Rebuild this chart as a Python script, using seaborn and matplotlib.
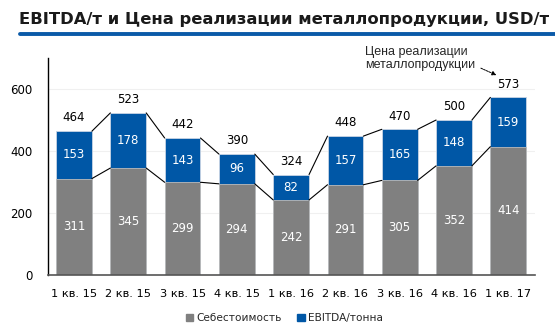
import matplotlib
matplotlib.use("Agg")
import matplotlib.pyplot as plt
import seaborn as sns
import pandas as pd
from matplotlib.lines import Line2D
from matplotlib.patches import Patch

quarters = ["1 кв. 15", "2 кв. 15", "3 кв. 15", "4 кв. 15", "1 кв. 16",
            "2 кв. 16", "3 кв. 16", "4 кв. 16", "1 кв. 17"]
cost = [311, 345, 299, 294, 242, 291, 305, 352, 414]
ebitda = [153, 178, 143, 96, 82, 157, 165, 148, 159]
price = [464, 523, 442, 390, 324, 448, 470, 500, 573]

GRAY = "#808080"
BLUE = "#0057A6"

sns.set_theme(style="white")
plt.rcParams['font.family'] = ['DejaVu Sans']

df = pd.DataFrame({"q": quarters, "cost": cost, "ebitda": ebitda, "price": price})

fig = plt.figure(figsize=(5.55, 3.3), dpi=100)
ax = fig.add_axes([0.0865, 0.167, 0.878, 0.657])

sns.barplot(data=df, x="q", y="price", color=BLUE, width=0.66, ax=ax,
            saturation=1, edgecolor="#c8d4e4", linewidth=0.6)
sns.barplot(data=df, x="q", y="cost", color=GRAY, width=0.66, ax=ax,
            saturation=1, edgecolor="#bcbcbc", linewidth=0.6)

n = len(quarters)
tot_bars = ax.patches[:n]
cost_bars = ax.patches[n:2 * n]

for i in range(n - 1):
    for bars in (tot_bars, cost_bars):
        a, b = bars[i], bars[i + 1]
        ax.add_line(Line2D([a.get_x() + a.get_width(), b.get_x()],
                           [a.get_height(), b.get_height()],
                           color="black", lw=0.8, zorder=1))

for i in range(n):
    tb, cb = tot_bars[i], cost_bars[i]
    xc = tb.get_x() + tb.get_width() / 2
    ax.text(xc, price[i] + 22, str(price[i]), ha="center", va="bottom",
            fontsize=8.5, color="black")
    ax.text(xc, cost[i] + ebitda[i] / 2, str(ebitda[i]), ha="center", va="center",
            fontsize=8.5, color="white")
    ax.text(xc, cost[i] * 0.5, str(cost[i]), ha="center", va="center",
            fontsize=8.5, color="white")

ax.set_ylim(0, 700)
ax.set_xlim(-0.479, n - 1 + 0.498)
ax.set_yticks([0, 200, 400, 600])
ax.yaxis.grid(True, color="#f0f0f0", lw=0.8)
ax.set_axisbelow(True)
ax.set_xlabel("")
ax.set_ylabel("")
ax.tick_params(axis="x", labelsize=8.2, colors="black", length=0, pad=10)
ax.tick_params(axis="y", labelsize=8.5, colors="black", length=0, pad=11)
for s in ("top", "right"):
    ax.spines[s].set_visible(False)
ax.spines["left"].set_color("black")
ax.spines["left"].set_linewidth(1.0)
ax.spines["bottom"].set_color("#555555")
ax.spines["bottom"].set_linewidth(1.2)

# annotation
ax.annotate("Цена реализации\nметаллопродукции",
            xy=(7.78, 645), xytext=(5.36, 700), ha="left", va="center",
            fontsize=9, family=["Liberation Sans", "DejaVu Sans"],
            linespacing=1.1, annotation_clip=False,
            arrowprops=dict(arrowstyle="-|>", linestyle=(0, (2, 1)), lw=0.7,
                            color="black", shrinkA=2, shrinkB=0,
                            relpos=(1.0, 0.2), mutation_scale=6))

# title
fig.text(0.034, 0.94, "EBITDA/т и Цена реализации металлопродукции, USD/т",
         fontsize=11.8, fontweight="bold", color="#1a1a1a", ha="left", va="center")
fig.add_artist(Line2D([0.036, 1.0], [0.898, 0.898], color="#0a5aa8", lw=2.8,
                      transform=fig.transFigure))

handles = [Patch(color=GRAY, label="Себестоимость"),
           Patch(color=BLUE, label="EBITDA/тонна")]
fig.legend(handles=handles, loc="center", bbox_to_anchor=(0.512, 0.036), ncol=2,
           frameon=False, fontsize=7.6, handlelength=0.7, handleheight=0.7,
           handletextpad=0.3, columnspacing=1.5)

fig.savefig("out.png", dpi=100)
